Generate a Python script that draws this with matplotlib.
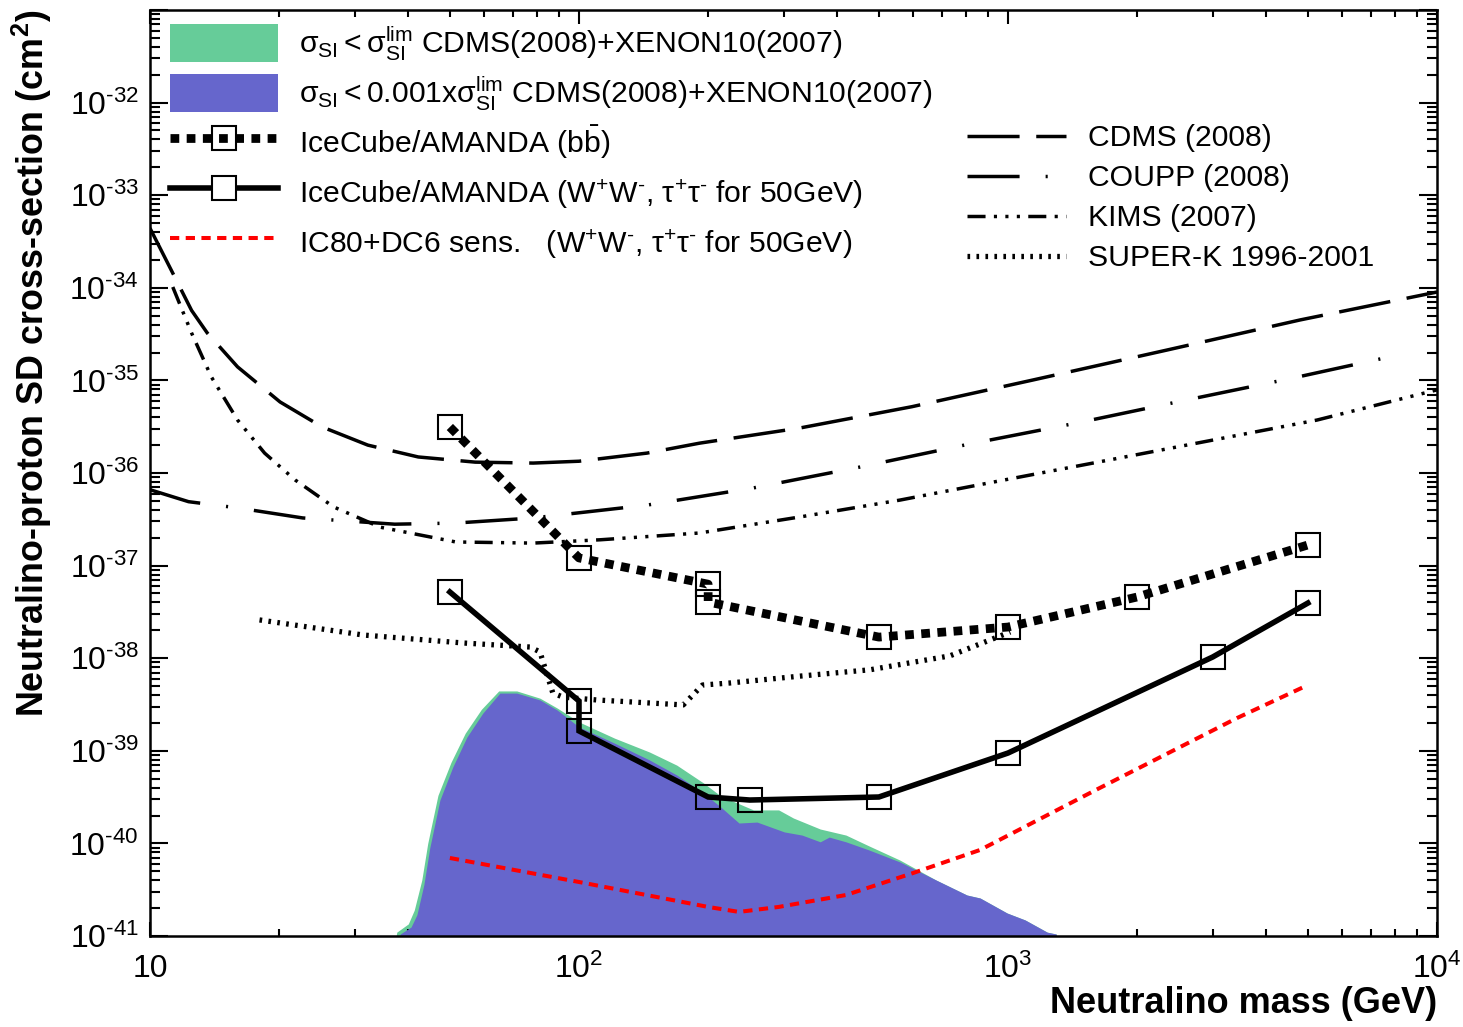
import numpy as np
import matplotlib
matplotlib.use('Agg')
from matplotlib import pyplot as plt
from matplotlib.patches import Patch, Rectangle
from matplotlib.lines import Line2D
from matplotlib.legend_handler import HandlerPatch
from matplotlib.ticker import LogLocator, NullFormatter, FuncFormatter

plt.rcParams['font.family'] = ['Liberation Sans', 'DejaVu Sans']
plt.rcParams['mathtext.fontset'] = 'custom'
plt.rcParams['mathtext.rm'] = 'Liberation Sans'
plt.rcParams['mathtext.it'] = 'Liberation Sans:italic'
plt.rcParams['mathtext.bf'] = 'Liberation Sans:bold'
plt.rcParams['mathtext.default'] = 'regular'

# direkte deteksjon, grenser (GeV, cm^2)
cdms_m = [10, 11.3, 12.5, 13.6, 16.0, 20.1, 25.2, 32.2, 42.2, 57.3, 78.2, 100,
          144, 191, 327, 597, 1143, 2350, 4800, 10000]
cdms_s = [4.4e-34, 1.44e-34, 5.7e-35, 3.25e-35, 1.4e-35, 5.85e-36, 3.14e-36, 2.0e-36,
          1.49e-36, 1.31e-36, 1.28e-36, 1.34e-36, 1.64e-36, 2.1e-36, 3.06e-36, 5.2e-36,
          1.01e-35, 2.13e-35, 4.5e-35, 9.0e-35]

coupp_m = [10, 12.3, 16.0, 22.7, 37.2, 51.6, 78.2, 144, 255, 452, 815, 1449, 2588, 4613, 8375]
coupp_s = [6.6e-37, 4.9e-37, 4.2e-37, 3.27e-37, 2.8e-37, 2.88e-37, 3.27e-37, 4.5e-37,
           6.9e-37, 1.16e-36, 2.06e-36, 3.47e-36, 6.1e-36, 1.06e-35, 1.94e-35]

kims_m = [11.3, 12.5, 13.9, 16.0, 18.5, 21.8, 26.8, 34.4, 51.6, 78.2, 112, 191, 327,
          560, 979, 1718, 3006, 5250, 10000]
kims_s = [1.02e-34, 3.25e-35, 1.09e-35, 3.73e-36, 1.64e-36, 8.4e-37, 4.3e-37, 2.6e-37,
          1.8e-37, 1.75e-37, 1.9e-37, 2.25e-37, 3.35e-37, 5.1e-37, 8.4e-37, 1.38e-36,
          2.27e-36, 3.73e-36, 7.9e-36]

superk_m = [18.0, 31.4, 53.7, 76.9, 81.1, 86.9, 91.8, 110, 175, 194, 225, 327, 477, 732, 1012]
superk_s = [2.59e-38, 1.78e-38, 1.46e-38, 1.32e-38, 1.17e-38, 4.2e-39, 3.8e-39, 3.54e-39,
            3.13e-39, 5.13e-39, 5.4e-39, 6.4e-39, 7.5e-39, 1.06e-38, 1.92e-38]

# IceCube/AMANDA grenser
bb_m = [50, 100, 200, 200, 500, 1000, 2000, 5000]
bb_s = [3.14e-36, 1.21e-37, 6.3e-38, 4.04e-38, 1.69e-38, 2.17e-38, 4.58e-38, 1.67e-37]

ww_m = [50, 100, 100, 200, 250, 500, 1000, 3000, 5000]
ww_s = [5.19e-38, 3.45e-39, 1.64e-39, 3.17e-40, 2.94e-40, 3.17e-40, 9.46e-40, 1.03e-38, 3.94e-38]

ic80_m = [50, 100, 200, 236, 292, 419, 601, 861, 1603, 3420, 5000]
ic80_s = [6.96e-41, 3.83e-41, 2.06e-41, 1.82e-41, 2.06e-41, 2.77e-41, 4.79e-41, 8.5e-41,
          3.78e-40, 2.26e-39, 5.13e-39]

# MSSM-omraade (oevre kant)
green_m = [36.6, 37.6, 40.0, 41.3, 43.0, 44.4, 46.9, 50.3, 54.3, 59.2, 65.0, 71.6, 81.1,
           88.9, 100, 121, 146, 169, 195, 214, 255, 292, 316, 365, 419, 474, 560, 679, 802,
           861, 995, 1096, 1234, 1295, 1330]
green_s = [5e-42, 1.1e-41, 1.35e-41, 1.9e-41, 4.0e-41, 1.0e-40, 3.3e-40, 7.5e-40, 1.55e-39,
           2.8e-39, 4.43e-39, 4.43e-39, 3.7e-39, 2.9e-39, 2.05e-39, 1.37e-39, 9.7e-40,
           7.0e-40, 4.5e-40, 3.25e-40, 2.3e-40, 2.3e-40, 1.88e-40, 1.43e-40, 1.23e-40,
           9.4e-41, 6.6e-41, 4.03e-41, 2.77e-41, 2.57e-41, 1.77e-41, 1.49e-41, 1.10e-41,
           1.05e-41, 5e-42]
blue_m = [37.3, 38.3, 40.6, 41.9, 43.5, 44.9, 47.4, 50.8, 54.8, 59.7, 65.4, 71.6, 81.1, 88.9,
          100, 121, 146, 169, 195, 214, 236, 260, 301, 331, 365, 383, 419, 474, 560, 679,
          802, 861, 995, 1096, 1234, 1295, 1330]
blue_s = [5e-42, 1.05e-41, 1.25e-41, 1.7e-41, 3.6e-41, 9.0e-41, 2.94e-40, 6.7e-40, 1.41e-39,
          2.56e-39, 4.2e-39, 4.2e-39, 3.54e-39, 2.76e-39, 1.81e-39, 1.21e-39, 7.96e-40,
          5.48e-40, 3.5e-40, 2.47e-40, 1.66e-40, 1.70e-40, 1.33e-40, 1.23e-40, 1.04e-40,
          1.17e-40, 1.04e-40, 8.5e-41, 6.3e-41, 4.03e-41, 2.77e-41, 2.57e-41, 1.77e-41,
          1.49e-41, 1.10e-41, 1.05e-41, 5e-42]

gronn = '#66cc99'
blaa = '#6666cc'

# linjestiler (i enheter av linjebredde)
ls_cdms = (0, (15, 4.8))
ls_coupp = (0, (15, 7.5, 0.6, 7.5))
ls_kims = (0, (5.2, 2.4, 0.9, 2.4, 0.9, 2.4, 0.9, 2.4))
ls_superk = (0, (0.5, 1.2))
ls_bb = (0, (1.0, 0.85))
ls_ic80 = (0, (2.3, 1.6))

fig = plt.figure(figsize=(14.63, 10.27), dpi=100)
ax = fig.add_axes([150/1463, 1-936/1027, 1287/1463, 926/1027])

ax.fill_between(green_m, green_s, 1e-45, color=gronn, lw=0, zorder=1)
ax.fill_between(blue_m, blue_s, 1e-45, color=blaa, lw=0, zorder=2)

ax.plot(cdms_m, cdms_s, color='k', lw=2.5, ls=ls_cdms, dash_capstyle='butt', zorder=3)
ax.plot(coupp_m, coupp_s, color='k', lw=2.5, ls=ls_coupp, dash_capstyle='butt', zorder=3)
ax.plot(kims_m, kims_s, color='k', lw=2.5, ls=ls_kims, dash_capstyle='butt', zorder=3)
ax.plot(superk_m, superk_s, color='k', lw=3.8, ls=ls_superk, dash_capstyle='butt', zorder=3)

ax.plot(ic80_m, ic80_s, color='red', lw=2.9, ls=ls_ic80, dash_capstyle='butt', zorder=4)
ax.plot(bb_m, bb_s, color='k', lw=6.3, ls=ls_bb, dash_capstyle='butt', zorder=5)
ax.plot(ww_m, ww_s, color='k', lw=4.0, solid_joinstyle='miter', zorder=5)
ax.plot(bb_m, bb_s, ls='none', marker='s', ms=17.5, mfc='none', mec='k', mew=1.5, zorder=6)
ax.plot(ww_m, ww_s, ls='none', marker='s', ms=17.5, mfc='none', mec='k', mew=1.5, zorder=6)

ax.set_xscale('log')
ax.set_yscale('log')
ax.set_xlim(10, 1e4)
ax.set_ylim(1e-41, 1e-31)

ax.xaxis.set_major_locator(LogLocator(base=10, numticks=10))
ax.xaxis.set_minor_locator(LogLocator(base=10, subs=np.arange(2, 10), numticks=20))
ax.yaxis.set_major_locator(LogLocator(base=10, numticks=20))
ax.yaxis.set_minor_locator(LogLocator(base=10, subs=np.arange(2, 10), numticks=40))
ax.xaxis.set_minor_formatter(NullFormatter())
ax.yaxis.set_minor_formatter(NullFormatter())


def xfmt(v, pos):
    n = int(round(np.log10(v)))
    if n < 1 or n > 4:
        return ''
    if n == 1:
        return '10'
    return r'$10^{%d}$' % n


def yfmt(v, pos):
    n = int(round(np.log10(v)))
    if n > -32 or n < -41:
        return ''
    return r'$10^{\text{-}%d}$' % (-n)


ax.xaxis.set_major_formatter(FuncFormatter(xfmt))
ax.yaxis.set_major_formatter(FuncFormatter(yfmt))
ax.tick_params(which='both', direction='in', top=True, right=True, width=1.5)
ax.tick_params(axis='y', which='major', length=13)
ax.tick_params(axis='y', which='minor', length=7)
ax.tick_params(axis='x', which='major', length=10)
ax.tick_params(axis='x', which='minor', length=5)
ax.tick_params(which='major', labelsize=23)
ax.tick_params(axis='x', pad=13)
ax.tick_params(axis='y', pad=8)
for sp in ax.spines.values():
    sp.set_linewidth(1.8)

fig.text(32/1463, 1-10/1027, 'Neutralino-proton SD cross-section (cm$^{2}$)',
         rotation=90, ha='center', va='top', fontsize=25.8, fontweight='bold')
fig.text(1437/1463, 1-1013/1027, 'Neutralino mass (GeV)',
         ha='right', va='baseline', fontsize=26, fontweight='bold')


def boks(legend, orig_handle, xdescent, ydescent, width, height, fontsize):
    h = 38 * 72 / 100
    return Rectangle((-xdescent, -ydescent + (height - h) / 2), width, h)


# legender
h1 = [Patch(facecolor=gronn, edgecolor='none'),
      Patch(facecolor=blaa, edgecolor='none'),
      Line2D([], [], color='k', lw=6.3, ls=ls_bb, marker='s', ms=17.5, mfc='none', mec='k', mew=1.5),
      Line2D([], [], color='k', lw=4.0, marker='s', ms=17.5, mfc='white', mec='k', mew=1.5),
      Line2D([], [], color='red', lw=2.9, ls=ls_ic80)]
l1 = [r'$\sigma_{SI} < \sigma_{SI}^{lim}$ CDMS(2008)+XENON10(2007)',
      r'$\sigma_{SI} < 0.001x\sigma_{SI}^{lim}$ CDMS(2008)+XENON10(2007)',
      r'IceCube/AMANDA (b$\bar{b}$)',
      r'IceCube/AMANDA (W$^{+}$W$^{\text{-}}$, $\tau^{+}\tau^{\text{-}}$ for 50GeV)',
      r'IC80+DC6 sens.   (W$^{+}$W$^{\text{-}}$, $\tau^{+}\tau^{\text{-}}$ for 50GeV)']
leg1 = ax.legend(h1, l1, loc='upper left', bbox_to_anchor=(0.0155, 0.9874), frameon=False,
                 fontsize=21.7, handlelength=3.6, handleheight=1.8, handletextpad=0.68,
                 labelspacing=0.25, borderpad=0, borderaxespad=0,
                 handler_map={Patch: HandlerPatch(patch_func=boks)})
ax.add_artist(leg1)

h2 = [Line2D([], [], color='k', lw=2.5, ls=ls_cdms),
      Line2D([], [], color='k', lw=2.5, ls=ls_coupp),
      Line2D([], [], color='k', lw=2.5, ls=ls_kims),
      Line2D([], [], color='k', lw=3.8, ls=ls_superk)]
l2 = ['CDMS (2008)', 'COUPP (2008)', 'KIMS (2007)', 'SUPER-K 1996-2001']
ax.legend(h2, l2, loc='upper left', bbox_to_anchor=(0.6348, 0.8766), frameon=False,
          fontsize=21.7, handlelength=3.3, handletextpad=0.7, labelspacing=0.4,
          borderpad=0, borderaxespad=0)

fig.savefig('out.png', dpi=100)
